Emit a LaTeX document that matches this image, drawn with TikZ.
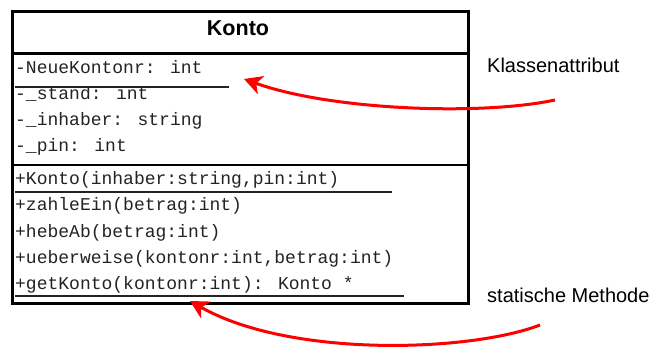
\documentclass[tikz,border=0pt]{standalone}
\usepackage{fontspec}
\setmainfont{Liberation Sans}
\newfontfamily\monofam{Liberation Mono}
\usetikzlibrary{arrows.meta}
\definecolor{txt}{RGB}{35,35,35}
\begin{document}
\begin{tikzpicture}[x=1pt,y=-1pt,
  member/.style={anchor=base west,inner sep=0pt,font=\monofam\fontsize{18}{20}\selectfont,text=txt},
  divider/.style={line width=2.5pt,black},
  uline/.style={line width=1.3pt,txt},
  note/.style={anchor=base west,inner sep=0pt,font=\fontsize{20}{24}\selectfont},
  pointer/.style={red,line width=3pt,-{Stealth[length=18pt,width=19pt,inset=5pt]}}]
\useasboundingbox (0,0) rectangle (655,347);
\node[draw,line width=3pt,minimum width=455.5pt,minimum height=291.5pt,inner sep=0pt,anchor=north west] (konto) at (11,10.5) {};
\node[font=\bfseries\fontsize{21.5}{24}\selectfont] (title) at (238,28) {Konto};
\draw[divider] (konto.west |- 0,53.5) coordinate (d1a) -- (konto.east |- 0,53.5) coordinate (d1b);
\draw[divider] (konto.west |- 0,165) coordinate (d2a) -- (konto.east |- 0,165) coordinate (d2b);
% attributes
\node[member] (a1) at (15,74) {-NeueKontonr: int};
\node[member] (a2) at (15,100) {-\_stand: int};
\node[member] (a3) at (15,126) {-\_inhaber: string};
\node[member] (a4) at (15,152) {-\_pin: int};
% methods
\node[member] (m1) at (15,185) {+Konto(inhaber:string,pin:int)};
\node[member] (m2) at (15,211) {+zahleEin(betrag:int)};
\node[member] (m3) at (15,237) {+hebeAb(betrag:int)};
\node[member] (m4) at (15,263) {+ueberweise(kontonr:int,betrag:int)};
\node[member] (m5) at (15,289) {+getKonto(kontonr:int): Konto *};
% underlines
\coordinate (u1a) at (15,87); \coordinate (u1b) at (229,87);
\coordinate (u2a) at (15,192); \coordinate (u2b) at (392,192);
\coordinate (u3a) at (15,296); \coordinate (u3b) at (404,296);
\draw[uline] (u1a) -- (u1b);
\draw[uline] (u2a) -- (u2b);
\draw[uline] (u3a) -- (u3b);
% notes
\node[note] (n1) at (487,73) {Klassenattribut};
\node[note] (n2) at (487,302) {statische Methode};
\coordinate (s1) at (555,100); \coordinate (t1) at (244,79);
\coordinate (s2) at (540,325); \coordinate (t2) at (190,301);
\draw[pointer] (s1) .. controls (480,116) and (330,110) .. (t1);
\draw[pointer] (s2) .. controls (470,352) and (290,358) .. (t2);
\end{tikzpicture}
\end{document}
